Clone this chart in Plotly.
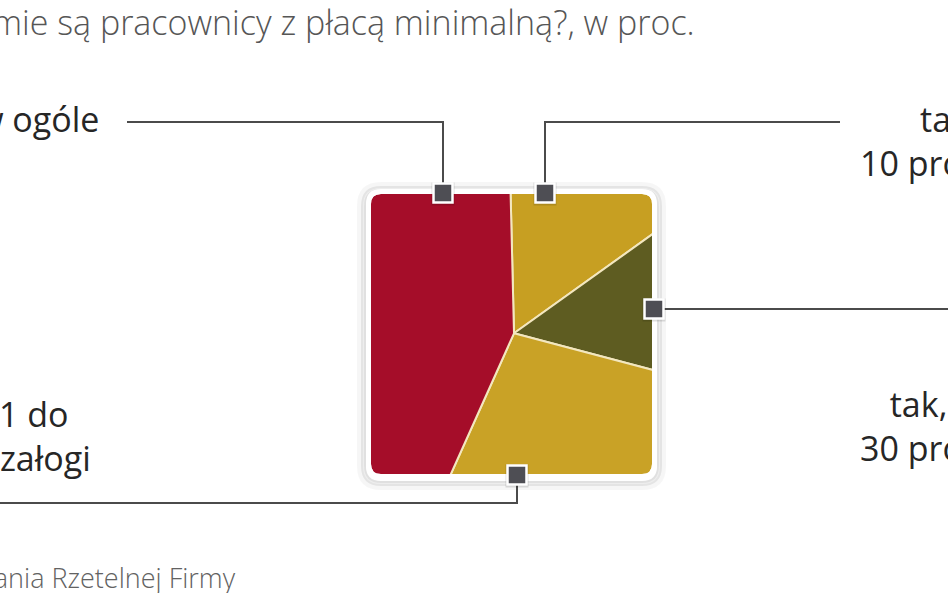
import plotly.graph_objects as go

W, H = 948, 593

labels = [
    "tak, do 10 proc. załogi",
    "tak, ponad 30 proc. załogi",
    "tak, od 11 do 30 proc. załogi",
    "nie, w ogóle",
]
values = [15.5, 14.0, 27.6, 42.9]
colors = ["#c79f22", "#5e5c21", "#c9a226", "#a50d29"]

# podpisy przy liniach (ucięte przez kadr tak jak w oryginale)
label_texts = [
    "tak, do<br>10 proc. załogi",
    "tak, ponad<br>30 proc. załogi",
    "tak, od 11 do<br>30 proc. załogi",
    "nie, w ogóle",
]
title_text = "Czy w Twojej firmie są pracownicy z płacą minimalną?, w proc."
source_text = "Źródło: badania Rzetelnej Firmy"


def rounded_rect(x0, y0, x1, y1, r):
    """SVG path of a rounded rectangle"""
    return (
        f"M {x0 + r},{y0} H {x1 - r} Q {x1},{y0} {x1},{y0 + r} "
        f"V {y1 - r} Q {x1},{y1} {x1 - r},{y1} H {x0 + r} "
        f"Q {x0},{y1} {x0},{y1 - r} V {y0 + r} Q {x0},{y0} {x0 + r},{y0} Z"
    )


# pie centre / radius in px, square the pie is clipped to
cx, cy, R = 514, 333.3, 215
sq = (371, 194, 652, 474)
corner = 10

fig = go.Figure()

fig.add_trace(
    go.Pie(
        labels = labels,
        values = values,
        sort = False,
        direction = "clockwise",
        rotation = -1.4,
        textinfo = "none",
        hoverinfo = "label+value",
        showlegend = False,
        marker = dict(colors = colors, line = dict(color = "#f3e7bf", width = 2)),
        domain = dict(
            x = [(cx - R) / W, (cx + R) / W],
            y = [(H - cy - R) / H, (H - cy + R) / H],
        ),
    )
)

shapes = []

# white mask round the square -> cuts the pie to a rounded square
ox0, oy0, ox1, oy1 = cx - R - 12, cy - R - 12, cx + R + 12, cy + R + 12
shapes.append(dict(
    type = "path",
    path = f"M {ox0},{oy0} H {ox1} V {oy1} H {ox0} Z " + rounded_rect(*sq, corner),
    fillrule = "evenodd",
    fillcolor = "white",
    line_width = 0,
))

# soft shadow + white frame
for off, w, col in [(11, 6, "rgba(0,0,0,0.035)"), (8.5, 3, "rgba(0,0,0,0.07)"), (6, 2, "rgba(0,0,0,0.12)")]:
    shapes.append(dict(
        type = "path",
        path = rounded_rect(sq[0] - off, sq[1] - off + 2, sq[2] + off, sq[3] + off + 2, corner + off),
        line = dict(color = col, width = w),
    ))
shapes.append(dict(
    type = "path",
    path = rounded_rect(sq[0] - 2.5, sq[1] - 2.5, sq[2] + 2.5, sq[3] + 2.5, corner + 2.5),
    line = dict(color = "white", width = 5),
))

# connector lines
line_style = dict(color = "#4b4b4b", width = 2)
connectors = [
    "M 840,122 H 545 V 193",   # tak, do 10 proc.
    "M 654,309 H 960",         # tak, ponad 30 proc.
    "M -10,503 H 517 V 475",   # tak, od 11 do 30 proc.
    "M 127,122 H 443 V 193",   # nie, w ogóle
]
for p in connectors:
    shapes.append(dict(type = "path", path = p, line = line_style))

# small square markers on the frame
marker_pos = [(545, 193), (654, 309), (517, 475), (443, 193)]
for mx, my in marker_pos:
    shapes.append(dict(
        type = "rect", x0 = mx - 11.5, x1 = mx + 11.5, y0 = my - 10.5, y1 = my + 12.5,
        fillcolor = "rgba(0,0,0,0.13)", line_width = 0,
    ))
    shapes.append(dict(
        type = "rect", x0 = mx - 9.5, x1 = mx + 9.5, y0 = my - 9.5, y1 = my + 9.5,
        fillcolor = "#4e4e54", line = dict(color = "white", width = 2.5),
    ))

for s in shapes:
    s.setdefault("xref", "x")
    s.setdefault("yref", "y")
    s.setdefault("layer", "above")

label_font = dict(family = "Open Sans", size = 34, color = "#262626")
annotations = [
    dict(x = 858, y = 141, text = label_texts[0], xanchor = "left", align = "center", font = label_font),
    dict(x = 858, y = 426, text = label_texts[1], xanchor = "left", align = "center", font = label_font),
    dict(x = 93, y = 436, text = label_texts[2], xanchor = "right", align = "left", font = label_font),
    dict(x = 101, y = 119, text = label_texts[3], xanchor = "right", align = "right", font = label_font),
    dict(x = 697, y = 22, text = title_text, xanchor = "right",
         font = dict(family = "Open Sans", size = 34, color = "#565656", weight = 300)),
    dict(x = 238, y = 577, text = source_text, xanchor = "right",
         font = dict(family = "Open Sans", size = 27, color = "#626262", weight = 300)),
]
for a in annotations:
    a.update(xref = "x", yref = "y", yanchor = "middle", showarrow = False)

fig.update_layout(
    width = W,
    height = H,
    margin = dict(l = 0, r = 0, t = 0, b = 0),
    paper_bgcolor = "white",
    plot_bgcolor = "white",
    xaxis = dict(range = [0, W], visible = False, fixedrange = True),
    yaxis = dict(range = [H, 0], visible = False, fixedrange = True),
    shapes = shapes,
    annotations = annotations,
    showlegend = False,
)

# the page body has a default 8px margin, drop it so the figure fills the window
fig.write_html(
    "out.html",
    config = dict(displayModeBar = False),
    post_script = "document.body.style.margin = '0'; document.body.style.overflow = 'hidden';",
)
